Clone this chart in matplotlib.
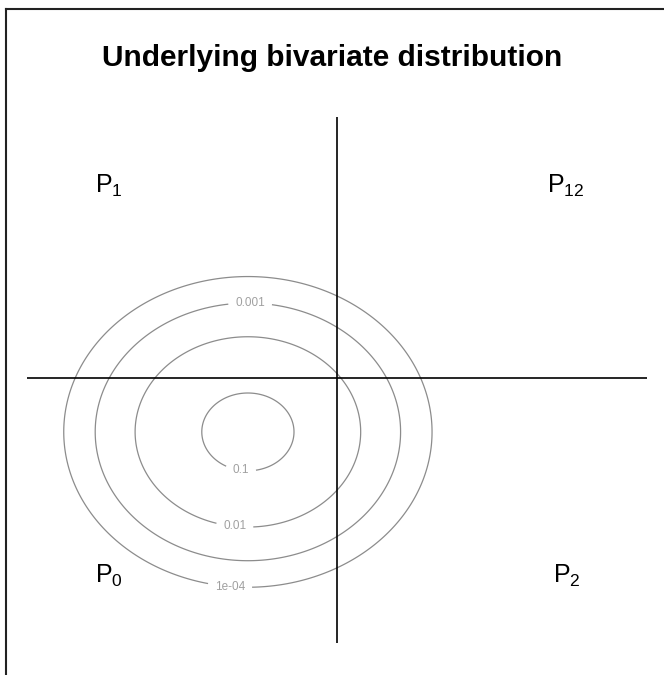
import numpy as np
import matplotlib.pyplot as plt
from matplotlib.lines import Line2D

plt.rcParams['font.family'] = ['Liberation Sans', 'DejaVu Sans']
plt.rcParams['mathtext.fontset'] = 'custom'
plt.rcParams['mathtext.rm'] = 'Liberation Sans'
plt.rcParams['mathtext.it'] = 'Liberation Sans'

# ---- data ----
mu = [0.0, 0.0]
sigma = [1.09, 0.92]
levels = [1e-4, 0.001, 0.01, 0.1]
level_text = ['1e-04', '0.001', '0.01', '0.1']
x_cut = 2.02
y_cut = 1.23
xlim = (-5.02, 9.07)
ylim = (-4.80, 7.16)
quad_labels = ['P_1', 'P_{12}', 'P_0', 'P_2']

W, H = 664, 675
fig = plt.figure(figsize=(W / 100, H / 100), dpi=100)
ax = fig.add_axes([27 / W, 32 / H, 620 / W, 526 / H])

xs = np.linspace(xlim[0], xlim[1], 600)
ys = np.linspace(ylim[0], ylim[1], 600)
X, Y = np.meshgrid(xs, ys)
Z = np.exp(-0.5 * (((X - mu[0]) / sigma[0]) ** 2 + ((Y - mu[1]) / sigma[1]) ** 2))
Z = Z / (2 * np.pi * sigma[0] * sigma[1])

cs = ax.contour(X, Y, Z, levels=levels, colors='#8c8c8c', linewidths=0.9)
fmt = dict(zip(levels, level_text))
clabels = ax.clabel(cs, fmt=fmt, fontsize=8.5, colors='#a0a0a0', inline=True, inline_spacing=7,
                    manual=[(-0.41, -3.55), (0.05, 2.84), (-0.3, -2.16), (-0.16, -0.86)])
for t in clabels:
    t.set_rotation(0)   # labels sit flat like in the R original

ax.axhline(y_cut, color='black', lw=1.2)
ax.axvline(x_cut, color='black', lw=1.2)
ax.set_xlim(xlim)
ax.set_ylim(ylim)
ax.axis('off')

# quadrant labels
pos = [(95, 193), (547, 193), (95, 583), (553, 583)]
for lab, (px, py) in zip(quad_labels, pos):
    fig.text(px / W, 1 - py / H, r'$\mathregular{' + lab + '}$', fontsize=18,
             ha='left', va='baseline')

fig.text(0.5, 1 - 66 / H, 'Underlying bivariate distribution', fontsize=21.5,
         fontweight='bold', ha='center', va='baseline')

# outer frame (top and left only)
fig.add_artist(Line2D([6 / W, 1], [1 - 9 / H, 1 - 9 / H], color='#222222', lw=1.5))
fig.add_artist(Line2D([6 / W, 6 / W], [0, 1 - 9 / H], color='#222222', lw=1.5))

fig.savefig('out.png', dpi=100, facecolor='white')
